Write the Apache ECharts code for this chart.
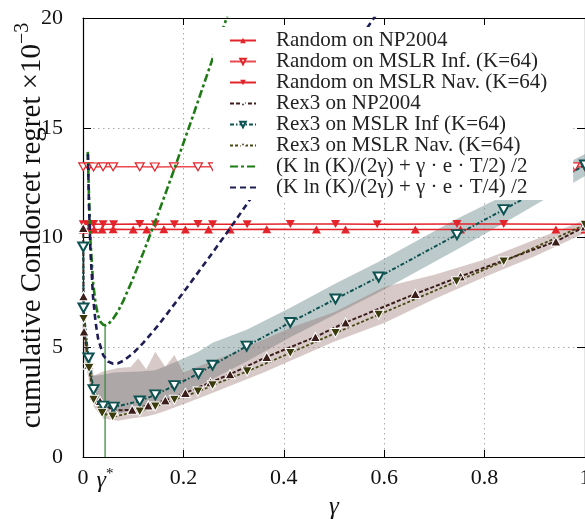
<!DOCTYPE html>
<html>
<head>
<meta charset="utf-8">
<script src="https://cdn.jsdelivr.net/npm/echarts@6/dist/echarts.min.js"></script>
<style>html,body{margin:0;padding:0;background:#fff}#c{width:585px;height:519px}</style>
</head>
<body>
<div id="c"></div>
<script>
// ---------------- data ----------------
const xTickValues = [0, 0.044, 0.2, 0.4, 0.6, 0.8, 1];
const xTickLabels = ['0', 'γ*', '0.2', '0.4', '0.6', '0.8', '1'];
const yTickLabels = ['0', '5', '10', '15', '20'];
const seriesNames = [
  'Random on NP2004',
  'Random on MSLR Inf. (K=64)',
  'Random on MSLR Nav. (K=64)',
  'Rex3 on NP2004',
  'Rex3 on MSLR Inf (K=64)',
  'Rex3 on MSLR Nav. (K=64)',
  '(K ln (K)/(2γ) + γ · e · T/2) /2',
  '(K ln (K)/(2γ) + γ · e · T/4) /2'
];

const randNPx = [0.0005,0.011,0.022,0.038,0.06,0.1,0.127,0.161,0.204,0.25,0.293,0.366,0.465,0.523,0.662,0.752,0.942,1.0];
const randNPy = [10.37,10.38,10.37,10.37,10.38,10.37,10.37,10.38,10.37,10.37,10.37,10.38,10.37,10.37,10.37,10.37,10.37,10.37];
const randInfx = [0.0005,0.011,0.021,0.04,0.06,0.113,0.143,0.181,0.229,0.259,0.327,0.413,0.503,0.586,0.745,0.838,0.98,1.0];
const randInfy = [13.22,13.22,13.21,13.22,13.22,13.22,13.21,13.22,13.22,13.22,13.22,13.22,13.22,13.22,13.22,13.22,13.22,13.22];
const randNavx = [0.0005,0.011,0.021,0.04,0.061,0.113,0.144,0.182,0.229,0.258,0.327,0.413,0.503,0.586,0.745,0.838,1.0];
const randNavy = [10.6,10.6,10.61,10.6,10.6,10.61,10.6,10.6,10.61,10.6,10.6,10.61,10.62,10.6,10.62,10.62,10.6];

const rexNPx = [0.0005,0.001,0.002,0.011,0.022,0.034,0.06,0.098,0.13,0.164,0.204,0.254,0.293,0.366,0.463,0.523,0.662,0.752,0.942,1.0];
const rexNPy = [10.43,7.32,5.72,4.2,2.8,2.55,2.12,2.15,2.35,2.58,2.92,3.4,3.77,4.56,5.47,6.13,7.43,8.23,9.82,10.5];
const rexInfx = [0.0005,0.001,0.011,0.021,0.04,0.061,0.113,0.144,0.182,0.23,0.258,0.326,0.413,0.503,0.589,0.745,0.838,1.0];
const rexInfy = [9.57,6.79,4.51,3.07,2.32,2.27,2.55,2.83,3.25,3.8,4.18,5.05,6.13,7.2,8.2,10.13,11.27,13.3];
const rexNavx = [0.001,0.012,0.021,0.038,0.059,0.113,0.144,0.182,0.229,0.258,0.327,0.413,0.503,0.589,0.744,0.838,1.0];
const rexNavy = [6.29,4.05,2.61,2.0,1.84,2.07,2.3,2.61,2.98,3.27,3.9,4.74,5.65,6.48,8.0,8.91,10.58];

const infBandLo = [9.3,6.5,4.1,2.6,1.95,1.95,2.15,2.4,2.75,3.25,3.55,4.35,5.45,6.5,7.5,9.45,10.65,12.8];
const infBandHi = [9.85,7.1,4.9,3.7,3.75,3.85,3.9,3.95,4.3,4.8,5.2,5.8,6.8,7.9,8.9,10.85,11.9,13.8];
const npBandX  = [0.0005,0.002,0.011,0.021,0.04,0.07,0.095,0.11,0.126,0.144,0.164,0.182,0.2,0.25,0.3,0.36,0.42,0.5,0.6,0.7,0.8,0.9,1.0];
const npBandHi = [10.5,6.0,4.6,3.7,3.9,4.05,4.1,4.5,4.0,4.8,4.1,4.65,3.85,4.3,4.75,5.35,5.95,6.6,7.75,8.3,9.0,9.9,10.8];
const npBandLo = [5.5,4.5,3.6,2.3,1.75,1.65,1.75,1.8,1.85,1.95,2.1,2.25,2.4,2.85,3.3,3.85,4.45,5.25,6.1,7.2,8.2,9.15,10.2];

const boundT2x = [0.0095,0.012,0.015,0.02,0.025,0.03,0.035,0.04,0.045,0.05,0.06,0.07,0.08,0.1,0.12,0.15,0.18,0.2,0.22,0.25,0.28,0.3];
const boundT2y = [13.9,11.8,9.8,7.95,7.0,6.45,6.15,6.03,6.0,6.05,6.3,6.65,7.1,8.15,9.3,11.1,13.0,14.3,15.6,17.6,19.6,20.9];
const boundT4x = [0.0098,0.012,0.015,0.02,0.025,0.03,0.04,0.05,0.06,0.07,0.08,0.1,0.12,0.15,0.2,0.25,0.3,0.35,0.4,0.45,0.5,0.55,0.6];
const boundT4y = [13.8,11.4,9.3,7.3,6.15,5.4,4.65,4.35,4.25,4.27,4.38,4.73,5.2,6.0,7.5,9.05,10.65,12.3,14.0,15.65,17.3,19.0,20.7];

const gammaStar = [0.044, 0.044];
const gammaStarY = [0, 6.0];

// ---------------- chart ----------------
const FONT = 'Liberation Serif';
const zip = (xs, ys) => xs.map((x, i) => [x, ys[i]]);
const DOWN = 'path://M0,0L20,0L10,18Z';
const UP = 'path://M10,0L20,18L0,18Z';
const RED = '#e3242b';

function band(xs, lo, hi, fill) {
  const data = xs.map((x, i) => [x, lo[i], hi[i]]);
  return {
    type: 'custom', silent: true, z: 1, clip: true,
    encode: { x: 0, y: [1, 2] },
    data,
    renderItem(params, api) {
      if (params.dataIndex !== 0) return null;
      const pts = [];
      for (let i = 0; i < data.length; i++) pts.push(api.coord([data[i][0], data[i][2]]));
      for (let i = data.length - 1; i >= 0; i--) pts.push(api.coord([data[i][0], data[i][1]]));
      return { type: 'polygon', shape: { points: pts }, style: { fill, stroke: null } };
    }
  };
}

function lineS(name, xs, ys, o) {
  return Object.assign({
    type: 'line', name, data: zip(xs, ys), z: 3,
    emphasis: { disabled: true }, animation: false
  }, o);
}

const chart = echarts.init(document.getElementById('c'), null, { renderer: 'canvas' });
const axisLabelStyle = { fontFamily: FONT, fontSize: 22, color: '#111' };

chart.setOption({
  animation: false,
  grid: { left: 83, right: 0, top: 18, bottom: 62, outerBoundsMode: 'none', containLabel: false },
  xAxis: [{
    type: 'value', min: 0, max: 1, interval: 0.2, position: 'bottom',
    axisLine: { show: true, onZero: false, lineStyle: { color: '#000', width: 1.2 } },
    axisTick: { show: true, inside: true, length: 7, lineStyle: { color: '#000' } },
    axisLabel: Object.assign({
      margin: 10,
      customValues: xTickValues,
      formatter: (v) => {
        const i = xTickValues.findIndex(t => Math.abs(t - v) < 1e-6);
        const s = i >= 0 ? xTickLabels[i] : '';
        return s === 'γ*' ? '{g|γ}{s|*}' : s;
      },
      rich: {
        g: { fontFamily: FONT, fontSize: 24, fontStyle: 'italic', color: '#111', lineHeight: 26, verticalAlign: 'bottom' },
        s: { fontFamily: FONT, fontSize: 15, color: '#111', lineHeight: 12, verticalAlign: 'top' }
      }
    }, axisLabelStyle),
    splitLine: { show: true, lineStyle: { color: '#aaa', type: [1.5, 3.5], width: 1 } },
    name: 'γ', nameLocation: 'middle', nameGap: 38, nameMoveOverlap: false,
    nameTextStyle: { fontFamily: FONT, fontSize: 25, fontStyle: 'italic', color: '#111' }
  }, {
    type: 'value', min: 0, max: 1, interval: 0.2, position: 'top',
    axisLine: { show: true, onZero: false, lineStyle: { color: '#000', width: 1.2 } },
    axisTick: { show: true, inside: true, length: 7, lineStyle: { color: '#000' } },
    axisLabel: { show: false }, splitLine: { show: false }
  }],
  yAxis: [{
    type: 'value', min: 0, max: 20, interval: 5, position: 'left',
    axisLine: { show: true, onZero: false, lineStyle: { color: '#000', width: 1.2 } },
    axisTick: { show: true, inside: true, length: 8, lineStyle: { color: '#000' } },
    axisLabel: Object.assign({ margin: 20, formatter: (v) => yTickLabels[Math.round(v / 5)] }, axisLabelStyle),
    splitLine: { show: true, lineStyle: { color: '#aaa', type: [1.5, 3.5], width: 1 } },
    name: '{a|cumulative Condorcet regret ×10}{b|−3}', nameLocation: 'middle', nameGap: 36,
    nameMoveOverlap: false,
    nameTextStyle: {
      padding: [0, 0, 0, 24],
      rich: {
        a: { fontFamily: FONT, fontSize: 29, color: '#111', lineHeight: 34, verticalAlign: 'bottom' },
        b: { fontFamily: FONT, fontSize: 20, color: '#111', lineHeight: 4, verticalAlign: 'top' }
      }
    }
  }, {
    type: 'value', min: 0, max: 20, interval: 5, position: 'right',
    axisLine: { show: true, onZero: false, lineStyle: { color: '#000', width: 1.2 } },
    axisTick: { show: true, inside: true, length: 8, lineStyle: { color: '#000' } },
    axisLabel: { show: false }, splitLine: { show: false }
  }],
  legend: {
    data: seriesNames.map((n, i) => i >= 6 ? { name: n, itemStyle: { opacity: 0 } } : n),
    orient: 'vertical', left: 213, top: 27, z: 10,
    itemWidth: 26, itemHeight: 7, itemGap: 0,
    padding: [3, 26, 2, 16], backgroundColor: '#fff',
    selectedMode: false,
    textStyle: { fontFamily: FONT, fontSize: 21, lineHeight: 20, color: '#222', padding: [0, 0, 0, 15] }
  },
  series: [
    band(rexInfx, infBandLo, infBandHi, 'rgba(95,128,130,0.42)'),
    band(npBandX, npBandLo, npBandHi, 'rgba(150,112,108,0.38)'),
    lineS('gammaStar', gammaStar, gammaStarY, { symbol: 'none', z: 2, lineStyle: { color: '#3c8c3c', width: 1.3 } }),
    lineS(seriesNames[0], randNPx, randNPy, {
      symbol: UP, symbolSize: [9, 8], itemStyle: { color: RED },
      lineStyle: { color: RED, width: 1.5 }
    }),
    lineS(seriesNames[1], randInfx, randInfy, {
      symbol: DOWN, symbolSize: [9, 8], itemStyle: { color: '#fff', borderColor: RED, borderWidth: 1.2 },
      lineStyle: { color: '#ea4a50', width: 1.5 }
    }),
    lineS(seriesNames[2], randNavx, randNavy, {
      symbol: DOWN, symbolSize: [9, 8], itemStyle: { color: RED },
      lineStyle: { color: RED, width: 1.5 }
    }),
    lineS(seriesNames[3], rexNPx, rexNPy, {
      symbol: UP, symbolSize: [10, 9], z: 4,
      itemStyle: { color: '#3b1d1a', borderColor: '#fff', borderWidth: 1 },
      lineStyle: { color: '#3b1d1a', width: 2, type: [4, 2] }
    }),
    lineS(seriesNames[4], rexInfx, rexInfy, {
      symbol: DOWN, symbolSize: [10, 9], z: 4,
      itemStyle: { color: '#fff', borderColor: '#0e5252', borderWidth: 2 },
      lineStyle: { color: '#0e5252', width: 2, type: [4, 2, 1.5, 2] }
    }),
    lineS(seriesNames[5], rexNavx, rexNavy, {
      symbol: DOWN, symbolSize: [10, 9], z: 4,
      itemStyle: { color: '#3a3a0c', borderColor: '#fff', borderWidth: 1 },
      lineStyle: { color: '#4a4a14', width: 1.8, type: [3, 2] }
    }),
    lineS(seriesNames[6], boundT2x, boundT2y, {
      symbol: 'none', z: 5,
      itemStyle: { color: '#1d7a14' },
      lineStyle: { color: '#1d7a14', width: 2.6, type: [8, 3, 3, 3] }
    }),
    lineS(seriesNames[7], boundT4x, boundT4y, {
      symbol: 'none', z: 5,
      itemStyle: { color: '#1e1e55' },
      lineStyle: { color: '#1e1e55', width: 2.6, type: [6, 4] }
    })
  ]
});
</script>
</body>
</html>
